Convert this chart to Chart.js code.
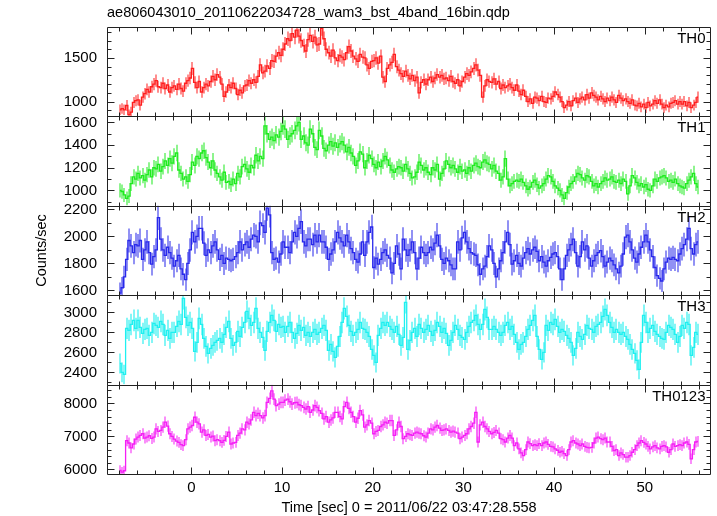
<!DOCTYPE html>
<html>
<head>
<meta charset="utf-8">
<script src="https://cdn.jsdelivr.net/npm/chart.js@4.4.0/dist/chart.umd.min.js"></script>
<style>
  html, body { margin: 0; padding: 0; background: #fff; }
</style>
</head>
<body>
<canvas id="qdpChart" width="717" height="516"></canvas>
<script>
"use strict";

var plotTitle = "ae806043010_20110622034728_wam3_bst_4band_16bin.qdp";
var xTitle = "Time [sec] 0 = 2011/06/22 03:47:28.558";
var yTitle = "Counts/sec";
var bandNames = ["TH0", "TH1", "TH2", "TH3", "TH0123"];

// 0.25 s bins, first bin centre
var binStart = -7.875;
var binWidth = 0.25;

// count rates per bin, 16 bins = 4 s per line
var th0 = [
  905,920,905,955, 850,880,990,1010, 1020,960,1050,1090, 1140,1110,1170,1200,
  1240,1170,1160,1210, 1150,1190,1110,1160, 1180,1140,1200,1150, 1120,1210,1240,1270,
  1380,1220,1160,1230, 1110,1160,1200,1180, 1230,1290,1250,1310, 1280,1200,1060,1110,
  1190,1160,1210,1150, 1080,1130,1100,1180, 1190,1240,1210,1250, 1220,1290,1420,1330,
  1350,1410,1380,1470, 1460,1520,1560,1530, 1600,1660,1720,1700, 1780,1740,1820,1750,
  1700,1640,1580,1710, 1760,1690,1740,1650, 1660,1840,1720,1600, 1560,1520,1590,1500,
  1470,1530,1510,1480, 1560,1630,1580,1520, 1490,1460,1540,1510, 1500,1420,1380,1460,
  1470,1500,1440,1520, 1280,1230,1380,1420, 1450,1540,1400,1360, 1320,1290,1350,1300,
  1260,1300,1240,1280, 1100,1220,1250,1200, 1250,1280,1230,1270, 1310,1280,1300,1260,
  1270,1240,1290,1230, 1210,1250,1180,1230, 1280,1320,1300,1340, 1380,1420,1360,1300,
  1050,1180,1250,1230, 1220,1260,1200,1230, 1150,1190,1160,1180, 1200,1160,1130,1190,
  1120,1080,1130,1060, 1000,1030,980,1050, 1040,1010,1060,1000, 990,1040,1030,1060,
  1110,1080,1050,1000, 930,960,1000,950, 1010,1040,990,1030, 1050,1020,1080,1040,
  1100,1070,1050,1020, 1060,1030,1000,1040, 1010,1050,1020,990, 1070,1040,1010,1030,
  1000,980,1020,960, 950,980,940,970, 930,990,950,970, 1010,980,1020,970,
  930,960,940,980, 990,1010,970,1000, 970,1000,950,990, 930,960,990,1050
];
var th1 = [
  1000,990,960,930, 950,1060,1120,1100, 1150,1110,1130,1090, 1140,1180,1120,1200,
  1190,1230,1170,1210, 1260,1220,1280,1240, 1300,1330,1180,1150, 1100,1120,1080,1140,
  1250,1220,1300,1280, 1330,1350,1290,1250, 1200,1260,1180,1150, 1120,1090,1160,1070,
  1080,1050,1100,1060, 1150,1120,1210,1230, 1190,1160,1220,1200, 1310,1260,1300,1280,
  1570,1500,1450,1470, 1440,1490,1470,1520, 1570,1540,1450,1480, 1500,1530,1570,1600,
  1450,1480,1420,1400, 1540,1500,1380,1360, 1530,1480,1370,1350, 1400,1430,1390,1420,
  1380,1410,1430,1400, 1340,1380,1330,1300, 1220,1260,1340,1320, 1200,1260,1310,1280,
  1230,1200,1250,1210, 1260,1300,1270,1220, 1180,1160,1190,1210, 1200,1170,1230,1190,
  1150,1110,1120,1160, 1250,1220,1180,1200, 1160,1140,1200,1180, 1230,1100,1150,1190,
  1260,1230,1200,1220, 1190,1160,1210,1170, 1180,1150,1200,1170, 1220,1240,1210,1200,
  1250,1270,1240,1230, 1190,1220,1170,1150, 1090,1120,1280,1100, 1040,1060,1080,1090,
  1080,1100,1070,1040, 1010,1030,1070,1090, 1050,1020,1040,1060, 1100,1130,1120,1080,
  1040,1020,1000,960, 930,980,1030,1060, 1080,1120,1150,1140, 1110,1090,1130,1120,
  1080,1040,1060,1030, 1060,1080,1110,1090, 1100,1120,1080,1070, 1090,1060,1100,1080,
  970,1040,1130,1110, 1070,1040,1060,1030, 1050,1010,1000,1040, 1100,1080,1110,1120,
  1130,1110,1080,1090, 1070,1100,1060,1040, 1030,1020,1060,1090, 1120,1150,1060,1030
];
var th2 = [
  1580,1620,1700,1830, 1970,1930,1880,1940, 1930,1970,1830,1900, 1960,1880,1795,1850,
  1900,2140,1980,1900, 1860,1920,1880,1840, 1780,1820,1860,1760, 1720,1680,1800,1900,
  2030,1960,2000,2060, 2060,1950,1860,1900, 1880,1930,1960,1900, 1830,1860,1800,1840,
  1830,1820,1830,1850, 1880,1960,1900,1940, 1960,1920,1980,2010, 2000,1960,2100,2080,
  2030,2210,2160,1880, 1830,1840,1810,1870, 1960,1920,1920,1880, 1960,2030,2000,2060,
  2110,1960,1930,1980, 1980,1940,2010,1960, 2010,1960,1960,1920, 1830,1870,1900,1960,
  2030,1990,1960,1930, 2010,1960,1910,1880, 1830,1810,1870,1960, 1860,1960,2030,2070,
  1770,1840,1795,1830, 1880,1900,1860,1840, 1730,1800,1930,1870, 1760,1980,1900,1860,
  1900,1960,1880,1760, 1840,1920,1880,1860, 1880,1920,1900,1950, 2010,1930,1830,1800,
  1840,1820,1790,1760, 1760,1960,1900,1990, 2030,1960,1910,1880, 1870,1860,1790,1720,
  1760,1780,1850,1930, 1900,1800,1700,1760, 1820,1880,1960,2030, 1940,1795,1820,1860,
  1800,1780,1840,1880, 1910,1870,1900,1920, 1890,1820,1850,1810, 1780,1820,1845,1870,
  1880,1850,1760,1680, 1760,1860,1900,1940, 1980,1880,1780,1850, 1960,1900,1930,1840,
  1780,1820,1860,1880, 1895,1850,1780,1810, 1840,1820,1790,1760, 1730,1780,1870,1995,
  2010,1960,1900,1840, 1810,1870,1920,1960, 2010,1960,1900,1850, 1770,1710,1690,1670,
  1760,1810,1840,1830, 1845,1830,1820,1870, 1910,1940,1980,2060, 1910,1870,1940,1960
];
var th3 = [
  2490,2400,2380,2840, 2820,2880,2920,2840, 2920,2850,2790,2830, 2840,2770,2800,2890,
  2870,2850,2910,2880, 2770,2820,2740,2800, 2800,2860,2910,2880, 3140,2950,2870,2900,
  2840,2610,2700,2940, 2880,2740,2660,2590, 2640,2670,2700,2720, 2740,2700,2780,2850,
  2910,2740,2670,2700, 2810,2760,2850,2900, 3010,2940,2870,2900, 3040,2840,2800,2750,
  2620,2810,2900,2970, 2920,2810,2880,2850, 2860,2800,2860,2900, 2800,2740,2790,2870,
  2820,2850,2770,2800, 2760,2800,2830,2780, 2800,2840,2870,2820, 2620,2680,2610,2550,
  2660,2760,2900,3040, 2960,2870,2810,2770, 2800,2830,2900,2840, 2830,2800,2760,2630,
  2570,2500,2770,2840, 2900,2870,2900,2860, 2830,2800,2860,2780, 2670,2750,3100,2630,
  2720,2800,2840,2760, 2880,2840,2800,2830, 2870,2810,2770,2820, 2900,2860,2800,2840,
  2790,2670,2720,2800, 2870,2830,2770,2750, 2730,2800,2860,2900, 2920,2970,2880,2830,
  2880,3030,2950,2830, 2830,2860,2830,2800, 2770,2800,2870,2900, 2830,2860,2780,2700,
  2630,2680,2700,2760, 2830,2870,2920,2970, 2760,2630,2530,2600, 2870,2820,2900,2880,
  2930,2860,2800,2830, 2810,2770,2740,2700, 2570,2640,2800,2760, 2730,2780,2870,2840,
  2830,2800,2860,2880, 2900,2960,3030,2970, 2900,2850,2800,2830, 2800,2780,2800,2760,
  2730,2680,2630,2590, 2520,2430,2700,2970, 2900,2800,2840,2870, 2810,2780,2760,2740,
  2730,2800,2870,2850, 2830,2780,2700,2760, 2870,2840,2900,2880, 2570,2650,2800,2780
];
var th0123 = [
  5970,5920,5960,6870, 6800,6650,6770,6920, 6980,7030,7080,6950, 6980,7020,6940,6980,
  7230,7150,7180,7280, 7430,7310,7080,7000, 6920,6860,6820,6750, 6720,6900,7230,7280,
  7330,7580,7430,7380, 7130,7200,7030,7060, 6980,7010,6870,6900, 6870,6820,6880,7000,
  7130,6770,6800,6820, 7030,7100,7230,7200, 7430,7380,7500,7730, 7630,7700,7630,7560,
  7630,8030,8150,8380, 8130,7930,7980,8030, 8030,8100,8130,8050, 7980,8020,8030,7960,
  7930,7880,7830,7900, 7730,7800,7930,7880, 7780,7700,7530,7600, 7430,7500,7560,7730,
  7730,7600,7530,7900, 8030,7850,7730,7600, 7430,7550,7780,7650, 7280,7350,7480,7400,
  7080,7150,7180,7300, 7350,7430,7400,7480, 7480,7030,7200,7430, 7300,6930,7000,7080,
  7050,7030,7100,7130, 7100,7080,7020,6980, 7100,7230,7200,7280, 7330,7250,7180,7200,
  7230,7180,7130,7160, 7130,7100,6930,6980, 7030,7080,7230,7300, 7400,7730,6830,7350,
  7430,7300,7230,7150, 7080,7120,7180,7100, 6930,6900,6830,6950, 7030,6950,6720,6800,
  6620,6500,6420,6600, 6830,6780,6720,6750, 6720,6780,6720,6800, 6830,6760,6700,6680,
  6620,6580,6520,6550, 6480,6420,6600,6830, 6870,6800,6770,6720, 6770,6700,6670,6650,
  6670,6800,6950,6980, 6930,6900,6950,6830, 6830,6700,6570,6600, 6420,6500,6450,6370,
  6370,6420,6520,6600, 6720,6800,6870,6820, 6770,6700,6620,6680, 6720,6650,6620,6700,
  6720,6680,6520,6600, 6770,6700,6720,6750, 6720,6800,6830,6760, 6320,6600,6830,6850
];

// axis ranges and tick steps per panel
var xMin = -9.3, xMax = 57.3;
var yMin = [830, 864, 1565, 2278, 5861];
var yMax = [1855, 1653, 2227, 3172, 8570];
var yMajor = [500, 200, 200, 200, 1000];
var yMinor = [100, 100, 100, 100, 200];

var series = [th0, th1, th2, th3, th0123];
var lineColors = ["rgb(255,30,30)", "rgb(30,235,30)", "rgb(40,40,235)", "rgb(30,240,240)", "rgb(245,30,245)"];
var errColors = ["rgba(255,50,50,0.55)", "rgba(50,235,50,0.55)", "rgba(55,55,235,0.55)", "rgba(50,240,240,0.6)", "rgba(245,50,245,0.55)"];

var fontFamily = "'Liberation Sans', Arial, Helvetica, sans-serif";
Chart.defaults.font.family = fontFamily;
Chart.defaults.color = "#000";

var datasets = series.map(function(vals, i) {
  return {
    label: bandNames[i],
    yAxisID: "y" + i,
    data: vals.map(function(v, k) { return { x: binStart + k * binWidth, y: v }; }),
    borderColor: lineColors[i],
    errColor: errColors[i],
    borderWidth: 1.3,
    pointRadius: 0,
    stepped: "middle",
    fill: false
  };
});

function plainLabel(v) { return String(v); }

var scales = {
  x: {
    type: "linear",
    position: "bottom",
    min: xMin,
    max: xMax,
    grid: { display: false, drawTicks: false },
    border: { display: false },
    ticks: { padding: 5, maxRotation: 0, autoSkip: false,
      font: { size: 15 }, color: "#000", callback: plainLabel },
    afterBuildTicks: function(s) {
      var t = [];
      for (var v = Math.ceil(xMin / 10) * 10; v <= xMax; v += 10) t.push({ value: v });
      s.ticks = t;
    },
    afterFit: function(s) { s.height = 42; }
  }
};
bandNames.forEach(function(name, i) {
  scales["y" + i] = {
    type: "linear",
    position: "left",
    stack: "panels",
    stackWeight: 1,
    weight: 10 - i,
    min: yMin[i],
    max: yMax[i],
    grid: { display: false, drawTicks: false },
    border: { display: false },
    ticks: { padding: 10, autoSkip: false, font: { size: 15 }, color: "#000", callback: plainLabel },
    afterBuildTicks: function(s) {
      var t = [];
      for (var v = Math.ceil(yMin[i] / yMajor[i]) * yMajor[i]; v <= yMax[i]; v += yMajor[i]) t.push({ value: v });
      s.ticks = t;
    },
    afterFit: function(s) { s.width = 107; }
  };
});

var qdpPlugin = {
  id: "qdpPanels",
  beforeDatasetsDraw: function(chart) {
    var ctx = chart.ctx, area = chart.chartArea, xs = chart.scales.x;
    chart.data.datasets.forEach(function(ds) {
      var ys = chart.scales[ds.yAxisID];
      ctx.save();
      ctx.beginPath();
      ctx.rect(area.left, ys.top, area.right - area.left, ys.bottom - ys.top);
      ctx.clip();
      ctx.strokeStyle = ds.errColor;
      ctx.lineWidth = 2;
      ctx.beginPath();
      ds.data.forEach(function(p) {
        var err = Math.sqrt(p.y / binWidth);
        var px = Math.round(xs.getPixelForValue(p.x));
        ctx.moveTo(px, ys.getPixelForValue(p.y + err));
        ctx.lineTo(px, ys.getPixelForValue(p.y - err));
      });
      ctx.stroke();
      ctx.restore();
    });
  },
  afterDraw: function(chart) {
    var ctx = chart.ctx, area = chart.chartArea, xs = chart.scales.x;
    var L = Math.round(area.left) + 0.5, R = Math.round(area.right) - 0.5;
    ctx.save();
    ctx.strokeStyle = "#222";
    ctx.lineWidth = 1;
    for (var i = 0; i < bandNames.length; i++) {
      var ys = chart.scales["y" + i];
      var T = Math.round(ys.top) + 0.5, B = Math.round(ys.bottom) + 0.5;
      ctx.beginPath();
      ctx.rect(L, T, R - L, B - T);
      // y ticks on both sides
      var v0 = Math.ceil(yMin[i] / yMinor[i]) * yMinor[i];
      for (var v = v0; v <= yMax[i]; v += yMinor[i]) {
        var len = (v % yMajor[i] === 0) ? 7 : 4;
        var py = Math.round(ys.getPixelForValue(v)) + 0.5;
        ctx.moveTo(L, py); ctx.lineTo(L + len, py);
        ctx.moveTo(R, py); ctx.lineTo(R - len, py);
      }
      // x ticks on top and bottom of each panel
      for (var t = Math.ceil(xMin / 2) * 2; t <= xMax; t += 2) {
        var tl = (t % 10 === 0) ? 7 : 4;
        var px = Math.round(xs.getPixelForValue(t)) + 0.5;
        ctx.moveTo(px, T); ctx.lineTo(px, T + tl);
        ctx.moveTo(px, B); ctx.lineTo(px, B - tl);
      }
      ctx.stroke();
      // band label
      ctx.fillStyle = "#000";
      ctx.font = "15px " + fontFamily;
      ctx.textAlign = "right";
      ctx.textBaseline = "middle";
      ctx.fillText(bandNames[i], R - 5, T + 11);
    }
    // titles
    ctx.fillStyle = "#000";
    ctx.font = "14.5px " + fontFamily;
    ctx.textAlign = "left";
    ctx.textBaseline = "middle";
    ctx.fillText(plotTitle, area.left, 13);
    ctx.textAlign = "center";
    ctx.fillText(xTitle, (area.left + area.right) / 2, 508);
    ctx.translate(42, (area.top + area.bottom) / 2);
    ctx.rotate(-Math.PI / 2);
    ctx.fillText(yTitle, 0, 0);
    ctx.restore();
  }
};

var ctx = document.getElementById("qdpChart").getContext("2d");
window.qdp = new Chart(ctx, {
  type: "line",
  data: { datasets: datasets },
  options: {
    responsive: false,
    animation: false,
    devicePixelRatio: 1,
    layout: { padding: { top: 27, right: 6, left: 0, bottom: 0 } },
    plugins: {
      legend: { display: false },
      tooltip: { enabled: false },
      title: { display: false }
    },
    scales: scales
  },
  plugins: [qdpPlugin]
});
</script>
</body>
</html>
